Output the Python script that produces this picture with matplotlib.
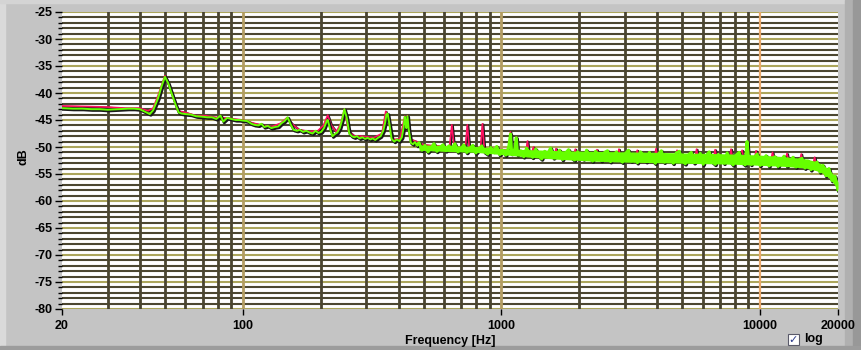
import matplotlib.pyplot as plt
import matplotlib.patheffects as pe
from matplotlib.patches import Rectangle
from matplotlib.ticker import MultipleLocator

plt.rcParams['font.family'] = ['Liberation Sans', 'DejaVu Sans']
plt.rcParams['axes.unicode_minus'] = False

# green trace, low band
freq_low = [20, 22, 24, 26, 28, 30, 33, 36, 38, 40,
            42, 43.7, 45, 47, 48.5, 50, 51.5, 53, 55, 56.5,
            58, 60, 63, 66, 70, 73, 76, 79, 82, 84,
            87, 90, 94, 97, 100, 104, 108, 111, 115, 118,
            121, 125, 129, 133, 137, 141, 145, 149, 153, 157,
            162, 166, 171, 176, 181, 186, 191, 196, 201, 206,
            211, 213, 217, 222, 227, 232, 237, 242, 247, 252,
            258, 264, 270, 276, 283, 290, 297, 304, 311, 318,
            325, 333, 341, 349, 355, 359, 363, 368, 376, 385,
            394, 403, 412, 418, 423, 426, 429, 433, 438, 446,
            455, 463, 472]
green_low = [-42.8, -42.9, -42.9, -43.0, -43.0, -43.1, -43.0, -42.9, -42.9, -43.0,
             -43.5, -43.9, -43.2, -41.0, -38.8, -37.0, -38.2, -40.0, -42.2, -43.6,
             -43.8, -43.9, -44.0, -44.3, -44.4, -44.5, -44.5, -44.8, -44.2, -45.3,
             -44.6, -44.8, -45.0, -45.0, -45.1, -45.2, -45.7, -45.9, -46.0, -45.7,
             -46.3, -46.1, -46.5, -46.3, -46.2, -45.6, -45.2, -44.5, -45.8, -46.8,
             -47.0, -46.8, -47.2, -47.0, -47.3, -47.5, -47.0, -47.4, -47.2, -46.5,
             -45.2, -45.0, -46.5, -48.0, -47.6, -47.3, -46.5, -45.0, -43.0, -44.5,
             -47.5, -48.0, -48.2, -48.0, -48.4, -48.2, -48.5, -48.3, -48.6, -48.4,
             -48.7, -48.3, -48.0, -47.0, -45.5, -44.0, -43.8, -45.5, -48.5, -49.0,
             -48.6, -48.9, -48.2, -46.5, -44.4, -45.5, -46.5, -44.3, -46.8, -49.2,
             -49.5, -49.1, -49.6]

# green trace, dense noisy band above ~480 Hz
freq_band = [472, 480, 493, 506, 520, 534, 548, 563, 578, 594,
             610, 626, 643, 660, 678, 697, 715, 735, 755, 775,
             796, 817, 839, 862, 885, 909, 934, 959, 985, 1011,
             1039, 1067, 1084, 1095, 1125, 1141, 1155, 1187, 1219, 1251,
             1285, 1320, 1356, 1392, 1430, 1469, 1508, 1549, 1591, 1634,
             1678, 1723, 1770, 1818, 1867, 1917, 1969, 2022, 2077, 2133,
             2190, 2250, 2310, 2373, 2437, 2503, 2570, 2640, 2711, 2784,
             2859, 2937, 3016, 3097, 3181, 3267, 3355, 3445, 3538, 3634,
             3732, 3833, 3936, 4042, 4151, 4263, 4379, 4497, 4618, 4743,
             4871, 5002, 5137, 5276, 5418, 5565, 5715, 5869, 6027, 6190,
             6357, 6529, 6705, 6886, 7072, 7263, 7459, 7660, 7867, 8079,
             8297, 8521, 8751, 8900, 8988, 9230, 9480, 9736, 9998, 10268,
             10546, 10830, 11123, 11423, 11732, 12048, 12374, 12708, 13051, 13403,
             13765, 14137, 14519, 14911, 15313, 15727, 16151, 16587, 17035, 17495,
             17968, 18453, 18951, 19463, 19988]
green_band = [-49.6, -49.2, -50.6, -49.7, -50.9, -50.2, -49.4, -50.8, -50.1, -49.6,
              -50.7, -49.8, -50.3, -49.4, -50.9, -50.4, -49.6, -51.0, -50.2, -49.7,
              -51.1, -50.5, -49.8, -50.9, -51.3, -50.1, -50.8, -49.9, -51.4, -50.6,
              -51.5, -50.0, -47.6, -51.2, -50.4, -48.3, -51.4, -50.7, -51.8, -50.2,
              -51.2, -51.9, -50.4, -51.6, -52.2, -50.8, -51.3, -50.2, -52.0, -51.4,
              -50.6, -52.3, -51.1, -50.5, -51.9, -52.4, -50.9, -51.6, -52.2, -50.6,
              -51.8, -52.6, -50.8, -51.4, -52.5, -51.0, -50.7, -52.7, -51.5, -50.9,
              -52.3, -52.8, -51.2, -50.6, -52.6, -51.7, -52.9, -50.9, -51.5, -52.7,
              -51.0, -52.4, -53.0, -51.3, -50.7, -52.8, -51.6, -52.2, -53.0, -51.1,
              -50.8, -52.6, -53.1, -51.5, -51.0, -52.9, -52.2, -51.2, -53.2, -51.6,
              -50.9, -52.7, -53.2, -51.4, -52.1, -53.0, -51.1, -52.6, -53.3, -51.5,
              -51.0, -52.8, -53.3, -49.0, -51.4, -53.2, -52.0, -51.3, -53.4, -52.4,
              -51.6, -53.5, -52.2, -51.8, -53.6, -52.5, -51.7, -53.5, -52.8, -51.9,
              -53.7, -52.4, -52.1, -53.9, -52.6, -54.2, -53.3, -52.8, -54.6, -53.4,
              -55.3, -54.0, -56.2, -55.4, -57.9]

# solid core of the green band (upper / lower edge)
edge_freq = [480, 600, 800, 1000, 1300, 1700, 2200, 3000, 4000, 5000,
             6500, 8000, 10000, 12500, 15000, 16500, 17500, 18500, 19500, 20000]
edge_top = [-49.6, -49.7, -49.9, -50.3, -50.5, -50.7, -50.8, -50.9, -51.0, -51.1,
            -51.2, -51.3, -51.5, -51.8, -52.2, -52.7, -53.3, -54.2, -55.5, -56.5]
edge_bottom = [-50.6, -50.8, -51.0, -51.4, -51.9, -52.3, -52.6, -52.8, -52.9, -53.0,
               -53.1, -53.2, -53.4, -53.6, -53.9, -54.4, -54.9, -55.8, -57.1, -57.9]

# red trace (mostly hidden under green, visible at the peaks)
red_freq = [20, 25, 30, 35, 40, 43, 45, 47, 50, 53,
            56, 60, 66, 72, 78, 85, 92, 100, 110, 120,
            130, 140, 148, 155, 165, 180, 195, 205, 213, 220,
            230, 240, 247, 256, 270, 290, 320, 345, 357, 365,
            380, 405, 423, 428, 433, 442, 470, 500, 560, 600,
            630, 643, 656, 700, 725, 738, 751, 800, 830, 844,
            858, 950, 1000, 1070, 1083, 1096, 1128, 1141, 1154, 1245,
            1260, 1275, 1300, 1330, 1360, 1600, 1625, 1650, 1900, 1930,
            1960, 2300, 2340, 2380, 2800, 2845, 2890, 3300, 3350, 3400,
            3900, 3960, 4020, 4700, 4770, 4840, 5600, 5680, 5760, 6600,
            6700, 6800, 7600, 7720, 7840, 8400, 8520, 8640, 9500, 9640,
            9780, 11000, 11170, 11340, 12500, 12700, 12900, 14200, 14420, 14640,
            16000, 16250, 16500, 17580, 18500, 19480, 20000]
red_db = [-42.4, -42.5, -42.6, -42.8, -42.8, -43.3, -42.8, -40.5, -36.8, -39.8,
          -43.3, -43.6, -44.2, -44.2, -44.5, -44.6, -44.8, -45.0, -45.6, -46.0,
          -46.2, -45.6, -44.6, -45.7, -46.8, -47.1, -47.0, -46.0, -44.1, -46.0,
          -47.2, -45.5, -43.0, -47.0, -48.0, -48.0, -48.3, -47.5, -43.4, -45.0,
          -48.6, -48.5, -44.3, -46.0, -44.2, -48.5, -49.0, -49.6, -49.8, -49.9,
          -50.0, -45.9, -50.0, -50.1, -50.1, -45.9, -50.2, -50.2, -50.2, -45.7,
          -50.3, -50.4, -50.5, -50.5, -47.2, -50.5, -50.6, -48.2, -50.7, -50.8,
          -48.9, -50.9, -51.5, -50.0, -51.6, -51.7, -50.3, -51.8, -51.8, -50.4,
          -51.9, -51.9, -50.5, -52.0, -52.0, -50.4, -52.0, -52.0, -50.6, -52.1,
          -52.1, -50.3, -52.1, -52.2, -50.6, -52.2, -52.2, -50.4, -52.3, -52.3,
          -50.5, -52.3, -52.3, -50.4, -52.4, -52.4, -50.6, -52.4, -52.5, -50.7,
          -52.5, -52.6, -51.0, -52.7, -52.7, -51.2, -52.8, -52.9, -51.3, -53.0,
          -53.3, -51.9, -53.6, -53.9, -55.0, -56.5, -57.8]

x_tick_vals = [20, 100, 1000, 10000, 20000]
x_minor_grid = [30, 40, 50, 60, 70, 80, 90,
                200, 300, 400, 500, 600, 700, 800, 900,
                2000, 3000, 4000, 5000, 6000, 7000, 8000, 9000]
x_major_grid = [100, 1000]

W, H = 862, 350
fig = plt.figure(figsize=(W / 100, H / 100), dpi=100, facecolor='#c4c4c4')

# bevelled panel edges
fig.add_artist(Rectangle((0, 0), 5 / W, 1, transform=fig.transFigure, color='#dadada', zorder=0))
fig.add_artist(Rectangle((0, 1 - 3 / H), 1, 3 / H, transform=fig.transFigure, color='#d4d4d4', zorder=0))
fig.add_artist(Rectangle((845 / W, 0), 17 / W, 1, transform=fig.transFigure, color='#b0b0b0', zorder=0))
fig.add_artist(Rectangle((853 / W, 0), 9 / W, 1, transform=fig.transFigure, color='#989898', zorder=0))
fig.add_artist(Rectangle((0, 0), 1, 4 / H, transform=fig.transFigure, color='#9c9c9c', zorder=0))

ax = fig.add_axes([62 / W, 1 - 309 / H, (838 - 62) / W, (309 - 12) / H])
ax.set_facecolor('white')
ax.set_xscale('log')
ax.set_xlim(20, 20000)
ax.set_ylim(-80, -25)

# grid
for d in range(-80, -24):
    if d % 5 == 0:
        ax.axhline(d, color='#aca65c', lw=1.5, zorder=1)
    else:
        ax.axhline(d, color='#4c4731', lw=1.5, zorder=1)
for f in x_minor_grid:
    ax.axvline(f, color='#4a4530', lw=2.0, zorder=1.2)
for f in x_major_grid:
    ax.axvline(f, color='#b39d62', lw=2.0, zorder=1.2)
ax.axvline(10000, color='#e8a86a', lw=1.6, zorder=1.2)

shadow = [pe.Stroke(linewidth=2.2, foreground='#1a1a1a', offset=(0.8, -0.8)), pe.Normal()]
ax.plot(red_freq, red_db, color='#ff1060', lw=1.2, zorder=3,
        path_effects=[pe.Stroke(linewidth=1.7, foreground='#1a1a1a', offset=(0.6, -0.6)), pe.Normal()])
ax.plot(freq_low, green_low, color='#66ff00', lw=1.4, zorder=4, path_effects=shadow)
ax.plot(freq_band, green_band, color='#66ff00', lw=2.2, zorder=4,
        path_effects=[pe.Stroke(linewidth=2.6, foreground='#1a1a1a', offset=(0.6, -0.8)), pe.Normal()])
ax.fill_between(edge_freq, edge_bottom, edge_top, color='#66ff00', lw=0, zorder=4.5)

for s in ax.spines.values():
    s.set_visible(False)

ax.set_yticks(range(-80, -24, 5))
ax.yaxis.set_minor_locator(MultipleLocator(1))
ax.set_xticks(x_tick_vals)
ax.set_xticklabels([str(v) for v in x_tick_vals])
ax.set_xticks([], minor=True)
ax.tick_params(axis='y', which='major', length=5, width=1, pad=2, labelsize=9)
ax.tick_params(axis='y', which='minor', length=3, width=1)
ax.tick_params(axis='x', which='major', length=4, width=1, pad=4, labelsize=9)
for lab in ax.get_xticklabels() + ax.get_yticklabels():
    lab.set_fontweight('bold')

fig.text(24 / W, 1 - 157 / H, 'dB', rotation=90, ha='center', va='center',
         fontsize=9, fontweight='bold')
fig.text(450 / W, 1 - 341 / H, 'Frequency [Hz]', ha='center', va='center',
         fontsize=9, fontweight='bold')

# "log" checkbox
fig.add_artist(Rectangle((788 / W, 1 - 345 / H), 11 / W, 11 / H, transform=fig.transFigure,
                         facecolor='white', edgecolor='#5a5a6a', lw=0.8, zorder=5))
fig.text(793.5 / W, 1 - 339.5 / H, '\u2713', ha='center', va='center', fontsize=8,
         fontweight='bold', color='#2c3c8c', family=['DejaVu Sans'], zorder=6)
fig.text(804 / W, 1 - 339 / H, 'log', ha='left', va='center', fontsize=9, fontweight='bold')

fig.savefig('out.png', dpi=100, facecolor=fig.get_facecolor())
